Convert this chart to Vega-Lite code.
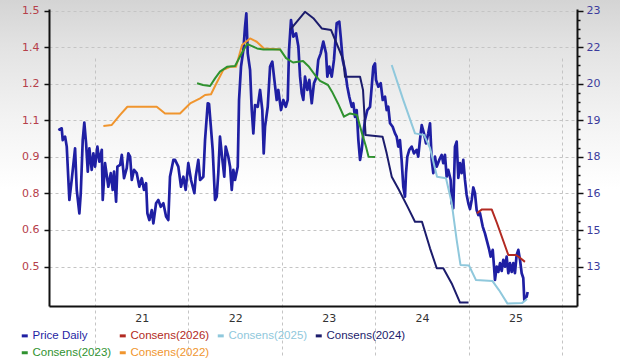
{
  "$schema": "https://vega.github.io/schema/vega-lite/v6.json",
  "width": 620,
  "height": 364,
  "autosize": {"type": "none"},
  "padding": 0,
  "background": "#ffffff",
  "config": {
    "view": {
      "stroke": null,
      "fill": {"gradient": "linear", "x1": 0, "y1": 0, "x2": 0, "y2": 1,
        "stops": [
          {"offset": 0, "color": "#d4d4d4"},
          {"offset": 0.13, "color": "#e3e3e3"},
          {"offset": 0.33, "color": "#f3f3f3"},
          {"offset": 0.52, "color": "#ffffff"},
          {"offset": 1, "color": "#ffffff"}
        ]}
    },
    "axis": {
      "title": null,
      "labelFont": "DejaVu Sans",
      "labelFontSize": 11,
      "domainColor": "#111111",
      "domainWidth": 2,
      "tickColor": "#111111",
      "tickWidth": 1.5,
      "gridColor": "#c4c4c4",
      "gridDash": [3, 3],
      "gridWidth": 1,
      "labelFlush": false,
      "labelOverlap": false
    }
  },
  "datasets": {
    "price": [
      {"s":"Price Daily","t":2020.607,"v":18.63},{"s":"Price Daily","t":2020.643,"v":18.70},{"s":"Price Daily","t":2020.654,"v":18.23},{"s":"Price Daily","t":2020.679,"v":18.37},{"s":"Price Daily","t":2020.697,"v":17.97},{"s":"Price Daily","t":2020.725,"v":15.84},{"s":"Price Daily","t":2020.750,"v":16.64},{"s":"Price Daily","t":2020.786,"v":17.90},{"s":"Price Daily","t":2020.804,"v":16.24},{"s":"Price Daily","t":2020.832,"v":15.31},
      {"s":"Price Daily","t":2020.847,"v":16.11},{"s":"Price Daily","t":2020.868,"v":18.23},{"s":"Price Daily","t":2020.885,"v":18.93},{"s":"Price Daily","t":2020.904,"v":18.10},{"s":"Price Daily","t":2020.922,"v":16.97},{"s":"Price Daily","t":2020.939,"v":17.90},{"s":"Price Daily","t":2020.964,"v":17.04},{"s":"Price Daily","t":2020.982,"v":17.70},{"s":"Price Daily","t":2021.000,"v":17.17},{"s":"Price Daily","t":2021.025,"v":17.97},
      {"s":"Price Daily","t":2021.046,"v":17.37},{"s":"Price Daily","t":2021.072,"v":17.84},{"s":"Price Daily","t":2021.082,"v":15.84},{"s":"Price Daily","t":2021.107,"v":17.31},{"s":"Price Daily","t":2021.142,"v":16.37},{"s":"Price Daily","t":2021.168,"v":16.91},{"s":"Price Daily","t":2021.189,"v":16.24},{"s":"Price Daily","t":2021.203,"v":16.97},{"s":"Price Daily","t":2021.225,"v":15.77},{"s":"Price Daily","t":2021.239,"v":17.17},
      {"s":"Price Daily","t":2021.268,"v":17.24},{"s":"Price Daily","t":2021.286,"v":17.64},{"s":"Price Daily","t":2021.310,"v":16.71},{"s":"Price Daily","t":2021.339,"v":17.11},{"s":"Price Daily","t":2021.356,"v":17.70},{"s":"Price Daily","t":2021.375,"v":17.57},{"s":"Price Daily","t":2021.393,"v":16.64},{"s":"Price Daily","t":2021.417,"v":17.04},{"s":"Price Daily","t":2021.446,"v":16.91},{"s":"Price Daily","t":2021.474,"v":16.37},
      {"s":"Price Daily","t":2021.500,"v":16.71},{"s":"Price Daily","t":2021.524,"v":16.24},{"s":"Price Daily","t":2021.546,"v":16.51},{"s":"Price Daily","t":2021.560,"v":15.31},{"s":"Price Daily","t":2021.581,"v":15.04},{"s":"Price Daily","t":2021.607,"v":15.44},{"s":"Price Daily","t":2021.624,"v":14.91},{"s":"Price Daily","t":2021.653,"v":15.71},{"s":"Price Daily","t":2021.677,"v":15.84},{"s":"Price Daily","t":2021.703,"v":15.57},
      {"s":"Price Daily","t":2021.731,"v":15.71},{"s":"Price Daily","t":2021.760,"v":15.18},{"s":"Price Daily","t":2021.784,"v":15.04},{"s":"Price Daily","t":2021.802,"v":16.77},{"s":"Price Daily","t":2021.838,"v":17.44},{"s":"Price Daily","t":2021.856,"v":17.44},{"s":"Price Daily","t":2021.891,"v":17.17},{"s":"Price Daily","t":2021.920,"v":16.37},{"s":"Price Daily","t":2021.945,"v":16.77},{"s":"Price Daily","t":2021.970,"v":16.24},
      {"s":"Price Daily","t":2021.998,"v":17.31},{"s":"Price Daily","t":2022.027,"v":16.64},{"s":"Price Daily","t":2022.063,"v":16.11},{"s":"Price Daily","t":2022.077,"v":16.77},{"s":"Price Daily","t":2022.105,"v":17.44},{"s":"Price Daily","t":2022.124,"v":16.64},{"s":"Price Daily","t":2022.159,"v":16.77},{"s":"Price Daily","t":2022.177,"v":18.23},{"s":"Price Daily","t":2022.206,"v":19.70},{"s":"Price Daily","t":2022.220,"v":19.67},
      {"s":"Price Daily","t":2022.238,"v":18.83},{"s":"Price Daily","t":2022.259,"v":17.84},{"s":"Price Daily","t":2022.284,"v":15.84},{"s":"Price Daily","t":2022.302,"v":15.97},{"s":"Price Daily","t":2022.319,"v":16.91},{"s":"Price Daily","t":2022.337,"v":18.37},{"s":"Price Daily","t":2022.359,"v":17.57},{"s":"Price Daily","t":2022.383,"v":16.77},{"s":"Price Daily","t":2022.398,"v":17.97},{"s":"Price Daily","t":2022.426,"v":17.57},
      {"s":"Price Daily","t":2022.445,"v":17.17},{"s":"Price Daily","t":2022.463,"v":16.24},{"s":"Price Daily","t":2022.480,"v":17.04},{"s":"Price Daily","t":2022.498,"v":16.64},{"s":"Price Daily","t":2022.527,"v":17.17},{"s":"Price Daily","t":2022.541,"v":19.83},{"s":"Price Daily","t":2022.562,"v":21.16},{"s":"Price Daily","t":2022.587,"v":21.82},{"s":"Price Daily","t":2022.605,"v":22.75},{"s":"Price Daily","t":2022.619,"v":23.29},
      {"s":"Price Daily","t":2022.634,"v":21.69},{"s":"Price Daily","t":2022.659,"v":21.03},{"s":"Price Daily","t":2022.677,"v":19.43},{"s":"Price Daily","t":2022.694,"v":18.50},{"s":"Price Daily","t":2022.712,"v":19.63},{"s":"Price Daily","t":2022.741,"v":19.56},{"s":"Price Daily","t":2022.766,"v":20.23},{"s":"Price Daily","t":2022.790,"v":19.43},{"s":"Price Daily","t":2022.805,"v":17.70},{"s":"Price Daily","t":2022.819,"v":18.76},
      {"s":"Price Daily","t":2022.848,"v":19.56},{"s":"Price Daily","t":2022.873,"v":21.16},{"s":"Price Daily","t":2022.897,"v":21.36},{"s":"Price Daily","t":2022.919,"v":20.63},{"s":"Price Daily","t":2022.944,"v":19.83},{"s":"Price Daily","t":2022.961,"v":20.23},{"s":"Price Daily","t":2022.990,"v":19.43},{"s":"Price Daily","t":2023.015,"v":19.83},{"s":"Price Daily","t":2023.041,"v":19.56},{"s":"Price Daily","t":2023.062,"v":19.83},
      {"s":"Price Daily","t":2023.076,"v":21.82},{"s":"Price Daily","t":2023.097,"v":23.02},{"s":"Price Daily","t":2023.122,"v":22.36},{"s":"Price Daily","t":2023.151,"v":22.49},{"s":"Price Daily","t":2023.176,"v":21.96},{"s":"Price Daily","t":2023.194,"v":20.76},{"s":"Price Daily","t":2023.212,"v":20.10},{"s":"Price Daily","t":2023.229,"v":19.83},{"s":"Price Daily","t":2023.247,"v":20.76},{"s":"Price Daily","t":2023.272,"v":20.23},
      {"s":"Price Daily","t":2023.293,"v":20.63},{"s":"Price Daily","t":2023.319,"v":19.70},{"s":"Price Daily","t":2023.343,"v":20.50},{"s":"Price Daily","t":2023.372,"v":20.76},{"s":"Price Daily","t":2023.389,"v":21.43},{"s":"Price Daily","t":2023.415,"v":21.69},{"s":"Price Daily","t":2023.443,"v":22.16},{"s":"Price Daily","t":2023.472,"v":21.69},{"s":"Price Daily","t":2023.486,"v":20.76},{"s":"Price Daily","t":2023.507,"v":21.16},
      {"s":"Price Daily","t":2023.533,"v":20.76},{"s":"Price Daily","t":2023.557,"v":21.43},{"s":"Price Daily","t":2023.586,"v":22.89},{"s":"Price Daily","t":2023.614,"v":22.95},{"s":"Price Daily","t":2023.629,"v":22.36},{"s":"Price Daily","t":2023.650,"v":21.43},{"s":"Price Daily","t":2023.675,"v":21.03},{"s":"Price Daily","t":2023.700,"v":20.36},{"s":"Price Daily","t":2023.721,"v":19.96},{"s":"Price Daily","t":2023.747,"v":19.56},
      {"s":"Price Daily","t":2023.764,"v":19.70},{"s":"Price Daily","t":2023.782,"v":19.16},{"s":"Price Daily","t":2023.800,"v":19.43},{"s":"Price Daily","t":2023.818,"v":18.23},{"s":"Price Daily","t":2023.836,"v":17.44},{"s":"Price Daily","t":2023.854,"v":17.84},{"s":"Price Daily","t":2023.871,"v":18.50},{"s":"Price Daily","t":2023.889,"v":19.03},{"s":"Price Daily","t":2023.914,"v":19.43},{"s":"Price Daily","t":2023.943,"v":19.56},
      {"s":"Price Daily","t":2023.961,"v":20.36},{"s":"Price Daily","t":2023.978,"v":21.16},{"s":"Price Daily","t":2023.996,"v":21.29},{"s":"Price Daily","t":2024.007,"v":20.63},{"s":"Price Daily","t":2024.032,"v":20.36},{"s":"Price Daily","t":2024.057,"v":20.50},{"s":"Price Daily","t":2024.079,"v":19.83},{"s":"Price Daily","t":2024.103,"v":19.96},{"s":"Price Daily","t":2024.121,"v":19.43},{"s":"Price Daily","t":2024.138,"v":19.56},
      {"s":"Price Daily","t":2024.157,"v":18.90},{"s":"Price Daily","t":2024.185,"v":18.76},{"s":"Price Daily","t":2024.210,"v":18.50},{"s":"Price Daily","t":2024.228,"v":18.37},{"s":"Price Daily","t":2024.245,"v":17.97},{"s":"Price Daily","t":2024.263,"v":18.23},{"s":"Price Daily","t":2024.281,"v":17.44},{"s":"Price Daily","t":2024.299,"v":16.37},{"s":"Price Daily","t":2024.317,"v":15.97},{"s":"Price Daily","t":2024.328,"v":16.91},
      {"s":"Price Daily","t":2024.342,"v":17.57},{"s":"Price Daily","t":2024.363,"v":17.84},{"s":"Price Daily","t":2024.389,"v":17.97},{"s":"Price Daily","t":2024.413,"v":17.70},{"s":"Price Daily","t":2024.442,"v":17.84},{"s":"Price Daily","t":2024.459,"v":17.57},{"s":"Price Daily","t":2024.477,"v":18.23},{"s":"Price Daily","t":2024.496,"v":18.83},{"s":"Price Daily","t":2024.520,"v":18.50},{"s":"Price Daily","t":2024.542,"v":18.10},
      {"s":"Price Daily","t":2024.566,"v":18.50},{"s":"Price Daily","t":2024.585,"v":18.90},{"s":"Price Daily","t":2024.603,"v":17.44},{"s":"Price Daily","t":2024.620,"v":16.91},{"s":"Price Daily","t":2024.638,"v":17.57},{"s":"Price Daily","t":2024.656,"v":17.17},{"s":"Price Daily","t":2024.684,"v":17.44},{"s":"Price Daily","t":2024.710,"v":17.64},{"s":"Price Daily","t":2024.727,"v":17.31},{"s":"Price Daily","t":2024.745,"v":17.64},
      {"s":"Price Daily","t":2024.763,"v":16.77},{"s":"Price Daily","t":2024.780,"v":17.04},{"s":"Price Daily","t":2024.806,"v":16.64},{"s":"Price Daily","t":2024.817,"v":15.71},{"s":"Price Daily","t":2024.834,"v":15.51},{"s":"Price Daily","t":2024.852,"v":17.97},{"s":"Price Daily","t":2024.870,"v":18.17},{"s":"Price Daily","t":2024.888,"v":16.72},{"s":"Price Daily","t":2024.906,"v":17.31},{"s":"Price Daily","t":2024.924,"v":16.91},
      {"s":"Price Daily","t":2024.941,"v":17.44},{"s":"Price Daily","t":2024.959,"v":16.64},{"s":"Price Daily","t":2024.977,"v":16.04},{"s":"Price Daily","t":2024.995,"v":15.71},{"s":"Price Daily","t":2025.013,"v":15.48},{"s":"Price Daily","t":2025.031,"v":15.84},{"s":"Price Daily","t":2025.048,"v":16.34},{"s":"Price Daily","t":2025.066,"v":16.11},{"s":"Price Daily","t":2025.084,"v":15.44},{"s":"Price Daily","t":2025.102,"v":15.24},
      {"s":"Price Daily","t":2025.120,"v":15.31},{"s":"Price Daily","t":2025.149,"v":14.78},{"s":"Price Daily","t":2025.173,"v":14.51},{"s":"Price Daily","t":2025.191,"v":14.25},{"s":"Price Daily","t":2025.219,"v":13.85},{"s":"Price Daily","t":2025.234,"v":13.58},{"s":"Price Daily","t":2025.256,"v":13.85},{"s":"Price Daily","t":2025.270,"v":13.18},{"s":"Price Daily","t":2025.280,"v":12.65},{"s":"Price Daily","t":2025.299,"v":13.18},
      {"s":"Price Daily","t":2025.316,"v":12.97},{"s":"Price Daily","t":2025.334,"v":13.32},{"s":"Price Daily","t":2025.352,"v":13.01},{"s":"Price Daily","t":2025.369,"v":13.45},{"s":"Price Daily","t":2025.387,"v":13.18},{"s":"Price Daily","t":2025.405,"v":13.58},{"s":"Price Daily","t":2025.423,"v":12.92},{"s":"Price Daily","t":2025.441,"v":13.32},{"s":"Price Daily","t":2025.459,"v":12.97},{"s":"Price Daily","t":2025.476,"v":13.32},
      {"s":"Price Daily","t":2025.494,"v":12.92},{"s":"Price Daily","t":2025.512,"v":13.65},{"s":"Price Daily","t":2025.530,"v":13.85},{"s":"Price Daily","t":2025.548,"v":13.45},{"s":"Price Daily","t":2025.566,"v":12.92},{"s":"Price Daily","t":2025.583,"v":12.73},{"s":"Price Daily","t":2025.594,"v":11.85},{"s":"Price Daily","t":2025.601,"v":11.93},{"s":"Price Daily","t":2025.619,"v":11.98},{"s":"Price Daily","t":2025.630,"v":12.17}
    ],
    "cons": [
      {"s":"Consens(2022)","t":2021.089,"v":1.049},{"s":"Consens(2022)","t":2021.179,"v":1.053},{"s":"Consens(2022)","t":2021.268,"v":1.092},{"s":"Consens(2022)","t":2021.346,"v":1.124},{"s":"Consens(2022)","t":2021.660,"v":1.124},{"s":"Consens(2022)","t":2021.749,"v":1.098},{"s":"Consens(2022)","t":2021.909,"v":1.098},{"s":"Consens(2022)","t":2022.017,"v":1.137},{"s":"Consens(2022)","t":2022.124,"v":1.157},{"s":"Consens(2022)","t":2022.177,"v":1.170},{"s":"Consens(2022)","t":2022.241,"v":1.173},{"s":"Consens(2022)","t":2022.295,"v":1.213},{"s":"Consens(2022)","t":2022.373,"v":1.268},{"s":"Consens(2022)","t":2022.445,"v":1.280},{"s":"Consens(2022)","t":2022.509,"v":1.280},{"s":"Consens(2022)","t":2022.573,"v":1.365},{"s":"Consens(2022)","t":2022.659,"v":1.391},{"s":"Consens(2022)","t":2022.730,"v":1.378},{"s":"Consens(2022)","t":2022.808,"v":1.352},{"s":"Consens(2022)","t":2022.990,"v":1.348},
      {"s":"Consens(2023)","t":2022.092,"v":1.216},{"s":"Consens(2023)","t":2022.156,"v":1.209},{"s":"Consens(2023)","t":2022.231,"v":1.205},{"s":"Consens(2023)","t":2022.284,"v":1.235},{"s":"Consens(2023)","t":2022.337,"v":1.261},{"s":"Consens(2023)","t":2022.412,"v":1.280},{"s":"Consens(2023)","t":2022.498,"v":1.283},{"s":"Consens(2023)","t":2022.570,"v":1.333},{"s":"Consens(2023)","t":2022.627,"v":1.369},{"s":"Consens(2023)","t":2022.680,"v":1.361},{"s":"Consens(2023)","t":2022.734,"v":1.352},{"s":"Consens(2023)","t":2022.801,"v":1.348},{"s":"Consens(2023)","t":2022.980,"v":1.348},{"s":"Consens(2023)","t":2023.044,"v":1.314},{"s":"Consens(2023)","t":2023.119,"v":1.297},{"s":"Consens(2023)","t":2023.226,"v":1.303},{"s":"Consens(2023)","t":2023.290,"v":1.280},{"s":"Consens(2023)","t":2023.354,"v":1.248},{"s":"Consens(2023)","t":2023.408,"v":1.225},{"s":"Consens(2023)","t":2023.493,"v":1.209},{"s":"Consens(2023)","t":2023.536,"v":1.183},{"s":"Consens(2023)","t":2023.600,"v":1.137},{"s":"Consens(2023)","t":2023.664,"v":1.085},{"s":"Consens(2023)","t":2023.729,"v":1.098},{"s":"Consens(2023)","t":2023.803,"v":1.092},{"s":"Consens(2023)","t":2023.857,"v":1.020},{"s":"Consens(2023)","t":2023.900,"v":0.968},{"s":"Consens(2023)","t":2023.927,"v":0.929},{"s":"Consens(2023)","t":2023.996,"v":0.928},
      {"s":"Consens(2024)","t":2023.087,"v":1.424},{"s":"Consens(2024)","t":2023.247,"v":1.495},{"s":"Consens(2024)","t":2023.336,"v":1.470},{"s":"Consens(2024)","t":2023.426,"v":1.430},{"s":"Consens(2024)","t":2023.525,"v":1.424},{"s":"Consens(2024)","t":2023.579,"v":1.377},{"s":"Consens(2024)","t":2023.657,"v":1.307},{"s":"Consens(2024)","t":2023.675,"v":1.241},{"s":"Consens(2024)","t":2023.836,"v":1.241},{"s":"Consens(2024)","t":2023.868,"v":1.189},{"s":"Consens(2024)","t":2023.895,"v":1.014},{"s":"Consens(2024)","t":2024.077,"v":1.007},{"s":"Consens(2024)","t":2024.121,"v":0.942},{"s":"Consens(2024)","t":2024.175,"v":0.851},{"s":"Consens(2024)","t":2024.253,"v":0.799},{"s":"Consens(2024)","t":2024.344,"v":0.734},{"s":"Consens(2024)","t":2024.424,"v":0.675},{"s":"Consens(2024)","t":2024.499,"v":0.675},{"s":"Consens(2024)","t":2024.585,"v":0.571},{"s":"Consens(2024)","t":2024.657,"v":0.493},{"s":"Consens(2024)","t":2024.727,"v":0.493},{"s":"Consens(2024)","t":2024.817,"v":0.434},{"s":"Consens(2024)","t":2024.906,"v":0.359},{"s":"Consens(2024)","t":2024.997,"v":0.359},
      {"s":"Consens(2025)","t":2024.175,"v":1.287},{"s":"Consens(2025)","t":2024.299,"v":1.150},{"s":"Consens(2025)","t":2024.424,"v":1.020},{"s":"Consens(2025)","t":2024.520,"v":1.014},{"s":"Consens(2025)","t":2024.585,"v":0.963},{"s":"Consens(2025)","t":2024.660,"v":0.851},{"s":"Consens(2025)","t":2024.756,"v":0.845},{"s":"Consens(2025)","t":2024.817,"v":0.748},{"s":"Consens(2025)","t":2024.870,"v":0.604},{"s":"Consens(2025)","t":2024.911,"v":0.506},{"s":"Consens(2025)","t":2025.002,"v":0.504},{"s":"Consens(2025)","t":2025.077,"v":0.447},{"s":"Consens(2025)","t":2025.254,"v":0.443},{"s":"Consens(2025)","t":2025.323,"v":0.408},{"s":"Consens(2025)","t":2025.414,"v":0.355},{"s":"Consens(2025)","t":2025.569,"v":0.357},{"s":"Consens(2025)","t":2025.623,"v":0.373},
      {"s":"Consens(2026)","t":2025.087,"v":0.708},{"s":"Consens(2026)","t":2025.141,"v":0.723},{"s":"Consens(2026)","t":2025.245,"v":0.723},{"s":"Consens(2026)","t":2025.302,"v":0.669},{"s":"Consens(2026)","t":2025.423,"v":0.545},{"s":"Consens(2026)","t":2025.505,"v":0.545},{"s":"Consens(2026)","t":2025.537,"v":0.537},{"s":"Consens(2026)","t":2025.601,"v":0.518}
    ]
  },
  "layer": [
    {
      "data": {"name": "price"},
      "mark": {"type": "line", "strokeWidth": 2.7, "strokeJoin": "round"},
      "encoding": {
        "x": {
          "field": "t", "type": "quantitative",
          "scale": {"domain": [2020.507, 2026.158], "range": [49, 577], "nice": false, "zero": false},
          "axis": {
            "orient": "bottom", "offset": -58,
            "values": [2021, 2022, 2023, 2024, 2025, 2026],
            "labelExpr": "datum.value >= 2026 ? '' : format(datum.value - 2000, 'd')",
            "labelOffset": 46.7, "ticks": false, "labelPadding": 6,
            "grid": true, "labelColor": "#333333"
          }
        },
        "y": {
          "field": "v", "type": "quantitative",
          "scale": {"domain": [11.612, 23.46], "range": [306, 9], "nice": false, "zero": false},
          "axis": {
            "orient": "right", "offset": -43, "grid": false,
            "values": [23.4, 23.035, 22.67, 22.305, 21.94, 21.575, 21.21, 20.845, 20.48, 20.115, 19.75, 19.385, 19.02, 18.655, 18.29, 17.925, 17.56, 17.195, 16.83, 16.465, 16.1, 15.735, 15.37, 15.005, 14.64, 14.275, 13.91, 13.545, 13.18, 12.815, 12.45, 12.085],
            "labelExpr": "(round((23.4 - datum.value) / 0.365) % 4 == 0) ? format(datum.value, '.0f') : ''",
            "tickSize": {"condition": {"test": "round((23.4 - datum.value) / 0.365) % 4 == 0", "value": 6}, "value": 3},
            "labelPadding": 3,
            "labelColor": "#3b3b9c"
          }
        },
        "color": {
          "field": "s", "type": "nominal",
          "scale": {
            "domain": ["Price Daily", "Consens(2026)", "Consens(2025)", "Consens(2024)", "Consens(2023)", "Consens(2022)"],
            "range": ["#1f1fa3", "#b22a22", "#8fc8dc", "#1c1c6c", "#2f922f", "#f0952e"]
          },
          "legend": {
            "orient": "none", "legendX": 19, "legendY": 330,
            "direction": "horizontal", "columns": 4, "title": null,
            "symbolType": "stroke", "symbolSize": 36, "symbolStrokeWidth": 3,
            "labelFont": "Liberation Sans", "labelFontSize": 11.5, "labelOffset": 2,
            "columnPadding": 1, "rowPadding": 4, "padding": 0, "labelLimit": 200,
            "encode": {"labels": {"update": {"fill": {"scale": "color", "field": "value"}}}}
          }
        }
      }
    },
    {
      "data": {"name": "cons"},
      "mark": {"type": "line", "strokeWidth": 2, "strokeJoin": "round"},
      "encoding": {
        "x": {"field": "t", "type": "quantitative"},
        "y": {
          "field": "v", "type": "quantitative",
          "scale": {"domain": [0.3457, 1.5059], "range": [306, 9], "nice": false, "zero": false},
          "axis": {
            "orient": "left", "offset": -49, "grid": true,
            "values": [1.5, 1.357143, 1.214286, 1.071429, 0.928571, 0.785714, 0.642857, 0.5],
            "format": ".1f", "tickSize": 5, "labelPadding": 5,
            "labelColor": "#b5404a"
          }
        },
        "color": {"field": "s", "type": "nominal"}
      }
    }
  ],
  "resolve": {"scale": {"y": "independent"}}
}
